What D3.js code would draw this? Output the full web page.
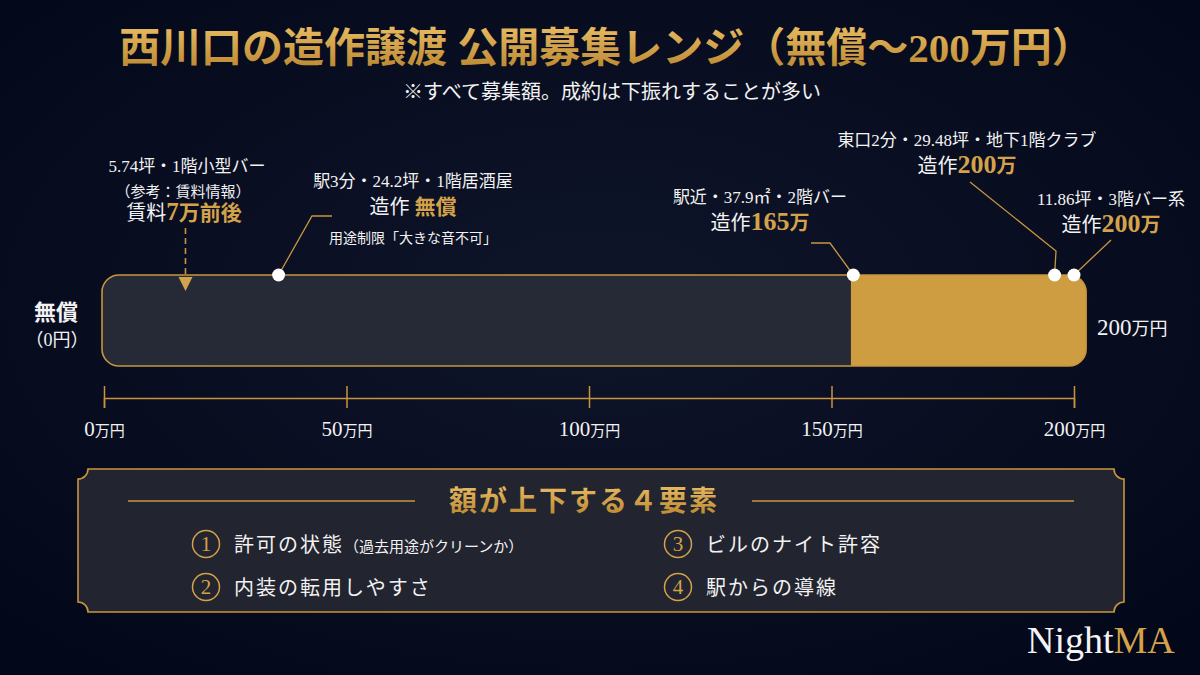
<!DOCTYPE html>
<html>
<head>
<meta charset="utf-8">
<script src="https://cdn.jsdelivr.net/npm/d3@7"></script>
<style>
  html, body { margin: 0; padding: 0; background: #050a1a; }
  svg { display: block; }
</style>
</head>
<body>
<div id="chart"></div>
<script>
// chart data
var axisTicks = [0, 50, 100, 150, 200];          // 万円
var barExtent = [0, 202.5];                       // drawn range of the bar, 万円
var paidStart = 154;                              // where the gold (有償) part begins

var listingNames = ["駅3分・24.2坪・1階居酒屋", "駅近・37.9㎡・2階バー", "東口2分・29.48坪・地下1階クラブ", "11.86坪・3階バー系"];
var listingPrice = [0, 165, 200, 200];            // 造作 price, 万円
var listingPriceText = ["無償", "165万", "200万", "200万"];
var listingMarkPos = [36, 154.5, 196, 200];       // where the dot sits on the bar
var listingNotes = ["用途制限「大きな音不可」", "", "", ""];

var rentName = "5.74坪・1階小型バー";
var rentNote = "（参考：賃料情報）";
var rentValue = 7;                                // 万
var rentMarkPos = 16.8;

var factorNames = ["許可の状態", "内装の転用しやすさ", "ビルのナイト許容", "駅からの導線"];
var factorNotes = ["（過去用途がクリーンか）", "", "", ""];

// page setup
var W = 1200, H = 675;
var gold = "#d4a24a", white = "#f2f2f2";
var serif = "'Liberation Serif', 'Noto Sans CJK JP', serif";
var cjk = "'Liberation Serif', 'Noto Sans CJK JP', serif";

var svg = d3.select("#chart").append("svg").attr("width", W).attr("height", H);
var defs = svg.append("defs");

// background gradient
var bg = defs.append("radialGradient").attr("id", "bg").attr("cx", "50%").attr("cy", "45%").attr("r", "70%");
bg.append("stop").attr("offset", "0%").attr("stop-color", "#0f1529");
bg.append("stop").attr("offset", "100%").attr("stop-color", "#03071a");
svg.append("rect").attr("width", W).attr("height", H).attr("fill", "url(#bg)");

// gold text gradient
var gg = defs.append("linearGradient").attr("id", "goldText").attr("x1", 0).attr("y1", 0).attr("x2", 0).attr("y2", 1);
gg.append("stop").attr("offset", "0%").attr("stop-color", "#e8bb62");
gg.append("stop").attr("offset", "100%").attr("stop-color", "#b9862f");

// title + subtitle
svg.append("text").attr("x", 606).attr("y", 62).attr("text-anchor", "middle")
    .style("font-family", cjk).style("font-size", "41px").style("font-weight", "bold")
    .attr("fill", "url(#goldText)")
    .text("西川口の造作譲渡 公開募集レンジ（無償〜200万円）");
svg.append("text").attr("x", 612).attr("y", 99).attr("text-anchor", "middle")
    .style("font-family", cjk).style("font-size", "20px").attr("fill", white)
    .text("※すべて募集額。成約は下振れすることが多い");

// x scale
var x = d3.scaleLinear().domain([0, 200]).range([104, 1074]);
var barTop = 275, barBottom = 366, barR = 17;

// range bar
defs.append("clipPath").attr("id", "barClip").append("rect")
    .attr("x", x(barExtent[0]) - 2).attr("y", barTop)
    .attr("width", x(barExtent[1]) - x(barExtent[0]) + 2).attr("height", barBottom - barTop)
    .attr("rx", barR);
var barG = svg.append("g");
barG.append("rect").attr("clip-path", "url(#barClip)")
    .attr("x", x(barExtent[0]) - 2).attr("y", barTop)
    .attr("width", x(barExtent[1]) - x(barExtent[0]) + 2).attr("height", barBottom - barTop)
    .attr("fill", "#262936");
barG.append("rect").attr("clip-path", "url(#barClip)")
    .attr("x", x(paidStart)).attr("y", barTop)
    .attr("width", x(barExtent[1]) - x(paidStart)).attr("height", barBottom - barTop)
    .attr("fill", "#cf9d41");
barG.append("rect")
    .attr("x", x(barExtent[0]) - 2).attr("y", barTop)
    .attr("width", x(barExtent[1]) - x(barExtent[0]) + 2).attr("height", barBottom - barTop)
    .attr("rx", barR).attr("fill", "none").attr("stroke", "#c8953d").attr("stroke-width", 1.6);

// end labels
var left = svg.append("text").attr("text-anchor", "middle").style("font-family", cjk).attr("fill", white);
left.append("tspan").attr("x", 56).attr("y", 320).style("font-size", "22px").style("font-weight", "bold").text("無償");
left.append("tspan").attr("x", 57).attr("y", 346).style("font-size", "18px").text("（0円）");
var right = svg.append("text").attr("x", 1097).attr("y", 335).style("font-family", cjk).attr("fill", white);
right.append("tspan").style("font-size", "23px").text("200");
right.append("tspan").style("font-size", "18px").text("万円");

// axis
var axisG = svg.append("g").attr("transform", "translate(0,398)")
    .call(d3.axisBottom(x).tickValues(axisTicks).tickSizeOuter(0).tickSize(10));
axisG.select(".domain").attr("stroke", "#c8953d").attr("stroke-width", 1.5);
axisG.selectAll(".tick line").attr("stroke", "#c8953d").attr("stroke-width", 1.5).attr("y1", -12).attr("y2", 10);
axisG.selectAll(".tick text").text(null).attr("y", 38).attr("dy", null)
    .style("font-family", cjk).attr("fill", white)
    .each(function(d) {
        var t = d3.select(this);
        t.append("tspan").style("font-size", "21px").text(d);
        t.append("tspan").style("font-size", "15px").text("万円");
    });

// leader lines + dots for each listing
var labelLayout = [
    {cx: 413, y: 187, leader: [[312, 216], [332, 216]]},
    {cx: 760, y: 203, leader: [[830, 243], [811, 243]]},
    {cx: 967, y: 146, leader: [[1056, 251], [970, 182]]},
    {cx: 1111, y: 205, leader: [[1111, 240]]}
];
var lineGen = d3.line();
svg.selectAll(".leader").data(listingMarkPos).enter().append("path")
    .attr("class", "leader")
    .attr("d", function(d, i) { return lineGen([[x(d), barTop]].concat(labelLayout[i].leader)); })
    .attr("fill", "none").attr("stroke", "#c8953d").attr("stroke-width", 1.3);

listingNames.forEach(function(name, i) {
    var L = labelLayout[i];
    var g = svg.append("g").style("font-family", cjk);
    g.append("text").attr("x", L.cx).attr("y", L.y).attr("text-anchor", "middle")
        .style("font-size", "17px").attr("fill", white).text(name);
    var p = g.append("text").attr("x", L.cx).attr("y", L.y + 27).attr("text-anchor", "middle");
    p.append("tspan").style("font-size", "20px").attr("fill", white).text(listingPrice[i] === 0 ? "造作 " : "造作");
    if (listingPrice[i] === 0) {
        p.append("tspan").style("font-size", "21px").style("font-weight", "bold").attr("fill", gold).text(listingPriceText[i]);
    } else {
        p.append("tspan").style("font-size", "26px").style("font-weight", "bold").attr("fill", gold).text(listingPrice[i]);
        p.append("tspan").style("font-size", "20px").style("font-weight", "bold").attr("fill", gold).text("万");
    }
    if (listingNotes[i]) {
        g.append("text").attr("x", L.cx).attr("y", L.y + 56).attr("text-anchor", "middle")
            .style("font-size", "14px").attr("fill", white).text(listingNotes[i]);
    }
});

svg.selectAll(".dot").data(listingMarkPos).enter().append("circle")
    .attr("class", "dot").attr("cx", function(d) { return x(d); }).attr("cy", barTop)
    .attr("r", 6.5).attr("fill", "#ffffff");

// rent reference (dashed arrow)
var rg = svg.append("g").style("font-family", cjk).attr("text-anchor", "middle");
rg.append("text").attr("x", 187).attr("y", 172).style("font-size", "17px").attr("fill", white).text(rentName);
rg.append("text").attr("x", 183).attr("y", 197).style("font-size", "15px").attr("fill", white).text(rentNote);
var rt = rg.append("text").attr("x", 184).attr("y", 220);
rt.append("tspan").style("font-size", "20px").attr("fill", white).text("賃料");
rt.append("tspan").style("font-size", "25px").style("font-weight", "bold").attr("fill", gold).text(rentValue);
rt.append("tspan").style("font-size", "21px").style("font-weight", "bold").attr("fill", gold).text("万前後");
svg.append("line").attr("x1", x(rentMarkPos)).attr("x2", x(rentMarkPos)).attr("y1", 228).attr("y2", 279)
    .attr("stroke", "#c8953d").attr("stroke-width", 1.6).attr("stroke-dasharray", "6,4");
svg.append("path")
    .attr("d", "M" + (x(rentMarkPos) - 7) + ",277 L" + (x(rentMarkPos) + 7) + ",277 L" + x(rentMarkPos) + ",291 Z")
    .attr("fill", "#d4a24a");

// factor box
var bx0 = 78, bx1 = 1124, by0 = 469, by1 = 612, nr = 10;
var boxPath = "M" + (bx0 + nr) + "," + by0 + " H" + (bx1 - nr) +
    " A" + nr + " " + nr + " 0 0 0 " + bx1 + "," + (by0 + nr) + " V" + (by1 - nr) +
    " A" + nr + " " + nr + " 0 0 0 " + (bx1 - nr) + "," + by1 + " H" + (bx0 + nr) +
    " A" + nr + " " + nr + " 0 0 0 " + bx0 + "," + (by1 - nr) + " V" + (by0 + nr) +
    " A" + nr + " " + nr + " 0 0 0 " + (bx0 + nr) + "," + by0 + " Z";
svg.append("path").attr("d", boxPath).attr("fill", "#22242f").attr("stroke", "#c8953d").attr("stroke-width", 1.6);

svg.append("line").attr("x1", 128).attr("x2", 415).attr("y1", 501).attr("y2", 501).attr("stroke", "#c8953d").attr("stroke-width", 1.3);
svg.append("line").attr("x1", 752).attr("x2", 1074).attr("y1", 501).attr("y2", 501).attr("stroke", "#c8953d").attr("stroke-width", 1.3);
svg.append("text").attr("x", 584).attr("y", 511).attr("text-anchor", "middle")
    .style("font-family", cjk).style("font-size", "28px").style("font-weight", "bold")
    .style("letter-spacing", "2px").attr("fill", "url(#goldText)")
    .text("額が上下する４要素");

var factorPos = [[206, 544], [206, 587], [678, 544], [678, 587]];
factorNames.forEach(function(name, i) {
    var c = factorPos[i];
    svg.append("circle").attr("cx", c[0]).attr("cy", c[1]).attr("r", 13.5)
        .attr("fill", "none").attr("stroke", gold).attr("stroke-width", 1.5);
    svg.append("text").attr("x", c[0]).attr("y", c[1] + 7).attr("text-anchor", "middle")
        .style("font-family", serif).style("font-size", "21px").attr("fill", gold).text(i + 1);
    var t = svg.append("text").attr("x", c[0] + 28).attr("y", c[1] + 8)
        .style("font-family", cjk).attr("fill", white);
    t.append("tspan").style("font-size", "20px").style("letter-spacing", "2px").text(name);
    if (factorNotes[i]) {
        t.append("tspan").style("font-size", "15px").text(factorNotes[i]);
    }
});

// logo
var logo = svg.append("text").attr("x", 1027).attr("y", 653).style("font-family", serif).style("font-size", "38px");
logo.append("tspan").attr("fill", "#f4f4f4").text("Night");
logo.append("tspan").attr("fill", gold).text("MA");
</script>
</body>
</html>
